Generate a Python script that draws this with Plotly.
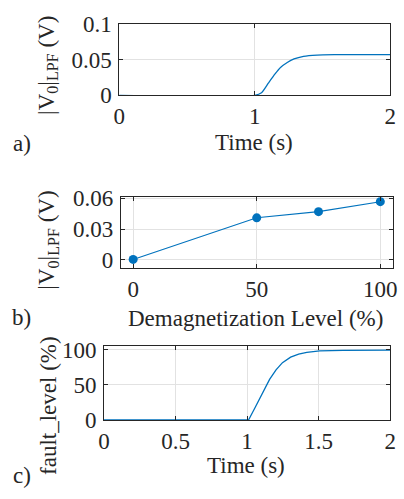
import plotly.graph_objects as go

W, H = 404, 499

# ---- data ----
time_a = [0, 1.0, 1.05, 1.10, 1.15, 1.19, 1.24, 1.29, 1.36, 1.46, 1.6, 1.8, 2.0]
v0_a = [0, 0, 0.0036, 0.017, 0.030, 0.039, 0.046, 0.051, 0.0547, 0.0565, 0.0570, 0.0572, 0.0572]

demag_level = [0, 50, 75, 100]
v0_b = [0.0005, 0.041, 0.047, 0.0567]

time_c = [0, 1.01, 1.055, 1.10, 1.157, 1.202, 1.247, 1.304, 1.36, 1.417, 1.507, 1.67, 2.0]
fault_c = [0, 0, 17.3, 35.3, 57.7, 71.2, 81.5, 89.2, 93.7, 96.0, 98.2, 99.0, 99.3]

ticks_a_x = [0, 1, 2]
ticks_a_y = [0, 0.05, 0.1]
ticks_b_x = [0, 50, 100]
ticks_b_y = [0, 0.03, 0.06]
ticks_c_x = [0, 0.5, 1, 1.5, 2]
ticks_c_y = [0, 50, 100]

BLUE = "#0072BD"
DARK = "#262626"
GRID = "#e2e2e2"
FONT = "Liberation Serif, Times New Roman, serif"
FS = 23


def px_x(p):
    return p / W


def px_y(p):
    return 1 - p / H


fig = go.Figure()
fig.add_trace(go.Scatter(x=time_a, y=v0_a, mode="lines", line=dict(color=BLUE, width=1.3, shape="spline", smoothing=0.6),
                         xaxis="x", yaxis="y", showlegend=False))
fig.add_trace(go.Scatter(x=demag_level, y=v0_b, mode="lines+markers", line=dict(color=BLUE, width=1.1),
                         marker=dict(color=BLUE, size=9), xaxis="x2", yaxis="y2", showlegend=False))
fig.add_trace(go.Scatter(x=time_c, y=fault_c, mode="lines", line=dict(color=BLUE, width=1.3),
                         xaxis="x3", yaxis="y3", showlegend=False))


def axis(domain, rng, tickvals, anchor, standoff, ticktext=None):
    d = dict(domain=domain, range=rng, tickvals=tickvals, anchor=anchor,
             showline=True, linecolor=DARK, linewidth=1, mirror="ticks",
             ticks="inside", ticklen=4, tickcolor=DARK, tickwidth=1,
             showgrid=True, gridcolor=GRID, gridwidth=1, zeroline=False,
             ticklabelstandoff=standoff,
             tickfont=dict(family=FONT, size=FS, color=DARK))
    if ticktext is not None:
        d["ticktext"] = ticktext
    return d


XS, YS = 0, 2
fig.update_layout(
    width=W, height=H, margin=dict(l=0, r=0, t=0, b=0),
    paper_bgcolor="white", plot_bgcolor="white",
    font=dict(family=FONT, size=FS, color=DARK),
    xaxis=axis([px_x(116.7), px_x(396)], [0, 2], ticks_a_x, "y", XS),
    yaxis=axis([px_y(87.7), px_y(12.7)], [0, 0.1], ticks_a_y, "x", YS, ["0", "0.05", "0.1"]),
    xaxis2=axis([px_x(118.3), px_x(398.5)], [-5, 105], ticks_b_x, "y2", XS),
    yaxis2=axis([px_y(270), px_y(194.5)], [-0.0083, 0.0615], ticks_b_y, "x2", YS, ["0", "0.03", "0.06"]),
    xaxis3=axis([px_x(101), px_x(396)], [0, 2], ticks_c_x, "y3", XS),
    yaxis3=axis([px_y(429.5), px_y(351.7)], [0, 105], ticks_c_y, "x3", YS),
)

tf = dict(family=FONT, size=FS, color=DARK)
ann = [
    dict(text="|V<sub>0</sub>|<sub>LPF</sub> (V)", x=px_x(43), y=px_y(56), textangle=-90),
    dict(text="|V<sub>0</sub>|<sub>LPF</sub> (V)", x=px_x(43), y=px_y(240), textangle=-90),
    dict(text="fault_level (%)", x=px_x(44), y=px_y(414), textangle=-90),
    dict(text="Time (s)", x=px_x(256), y=px_y(137)),
    dict(text="Demagnetization Level (%)", x=px_x(257.5), y=px_y(323)),
    dict(text="Time (s)", x=px_x(247), y=px_y(477)),
    dict(text="a)", x=px_x(16), y=px_y(138)),
    dict(text="b)", x=px_x(16), y=px_y(322)),
    dict(text="c)", x=px_x(17), y=px_y(488)),
]
for a in ann:
    a.update(xref="paper", yref="paper", showarrow=False, font=tf, xanchor="center", yanchor="middle")
fig.update_layout(annotations=ann)

fig.write_html("out.html")
